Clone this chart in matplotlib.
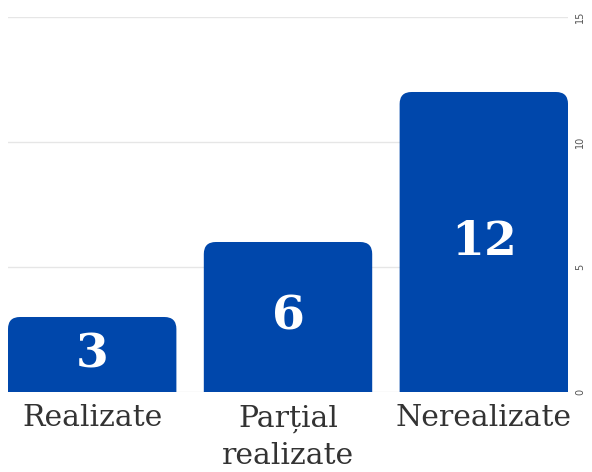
import matplotlib.pyplot as plt
from matplotlib.patches import FancyBboxPatch

categories = ['Realizate', 'Parțial\nrealizate', 'Nerealizate']
values = [3, 6, 12]
yticks = [0, 5, 10, 15]

bar_color = '#0047AB'
bar_width = 0.86

fig = plt.figure(figsize=(5.92, 4.72), dpi=100)
ax = fig.add_axes([0.0135, 0.1695, 0.946, 0.7945])
ax.set_xlim(-0.43, 2.43)
ax.set_ylim(0, 15)

# pixels per data unit, used to keep the corner rounding circular
px_x = 0.946 * 592 / 2.86
px_y = 0.7945 * 472 / 15
radius_px = 12

for i, v in enumerate(values):
    # start the box below zero so only the top corners show rounded
    box = FancyBboxPatch((i - bar_width / 2, -2), bar_width, v + 2,
                         boxstyle="round,pad=0,rounding_size=%f" % (radius_px / px_x),
                         mutation_aspect=px_x / px_y,
                         facecolor=bar_color, edgecolor='none', zorder=3)
    ax.add_patch(box)
    ax.text(i, v / 2, str(v), ha='center', va='center', color='white',
            fontsize=34, fontweight='bold', family='DejaVu Serif', zorder=4)

ax.set_xticks(range(len(categories)))
ax.set_xticklabels(categories, family='DejaVu Serif', fontsize=21.5, color='#333333',
                   linespacing=1.42)
ax.yaxis.tick_right()
ax.set_yticks(yticks)
ax.set_yticklabels([str(t) for t in yticks], rotation=90, va='center', fontsize=7,
                   color='#555555')
ax.tick_params(axis='both', length=0)
ax.tick_params(axis='x', pad=9)
ax.tick_params(axis='y', pad=5)
ax.grid(axis='y', color='#e6e6e6', linewidth=1, zorder=0)
ax.set_axisbelow(True)
for s in ax.spines.values():
    s.set_visible(False)

fig.savefig('out.png', dpi=100)
